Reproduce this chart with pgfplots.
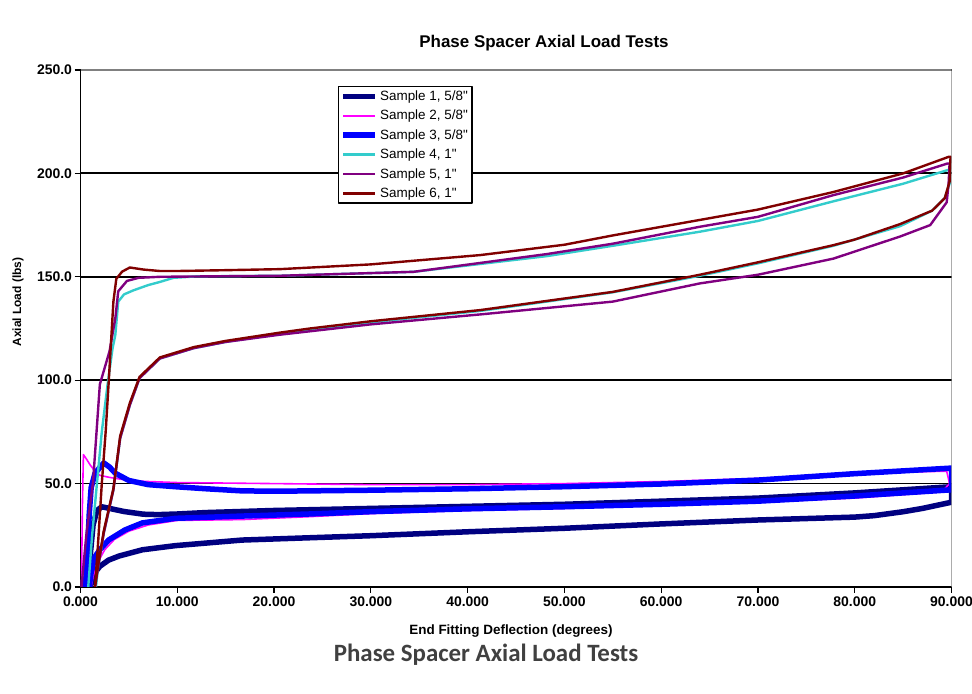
\documentclass[border=0pt]{standalone}
\usepackage{fontspec}
\setmainfont{Liberation Sans}[Ligatures=TeXOff]
\newfontfamily\calibri{Carlito}
\usepackage{pgfplots}
\pgfplotsset{compat=1.18}
\definecolor{sOne}{RGB}{0,0,128}
\definecolor{sTwo}{RGB}{255,0,255}
\definecolor{sThree}{RGB}{0,0,255}
\definecolor{sFour}{RGB}{51,204,204}
\definecolor{sFive}{RGB}{128,0,128}
\definecolor{sSix}{RGB}{128,0,0}
\definecolor{capgray}{RGB}{64,64,64}
\definecolor{bordergray}{RGB}{128,128,128}
\begin{document}
\begin{tikzpicture}
\path[use as bounding box] (0,0) rectangle (972bp,694bp);
\begin{axis}[
  at={(80.5bp,107bp)}, anchor=south west,
  scale only axis, width=871bp, height=517bp,
  xmin=0, xmax=90, ymin=0, ymax=250,
  axis lines=left, axis line style={-, black, line width=1.6bp},
  xtick={0,10,20,30,40,50,60,70,80,90},
  xticklabels={0.000,10.000,20.000,30.000,40.000,50.000,60.000,70.000,80.000,90.000},
  ytick={0,50,100,150,200,250},
  yticklabels={0.0,50.0,100.0,150.0,200.0,250.0},
  tick align=outside, major tick length=6bp,
  tick style={black, line width=1.2bp},
  ymajorgrids, grid style={black, line width=1.8bp},
  tick label style={font=\bfseries\fontsize{14}{16}\selectfont},
  yticklabel style={xshift=1bp},
  legend style={at={(0.2956,0.969)}, anchor=north west, draw=black, line width=1.3bp,
    fill=white, font=\fontsize{13.5}{15}\selectfont, inner sep=2bp, row sep=4.2bp},
  legend cell align=left,
  legend image code/.code={\draw[#1] (0bp,0bp) -- (32bp,0bp);},
  line join=round,
]
% Sample 1
\addplot[sOne, line width=5.5bp] coordinates {
(0.7,0) (1.0,15) (1.3,30) (1.7,37) (2.2,38.8) (3,38) (4.5,36.5) (6.5,35.2) (8,35) (10,35.3)
(13,36) (20,37) (30,38) (40,39) (50,40) (60,41.5) (70,43) (80,45.5) (90,48.5)
(90,41) (89.5,40.5) (87,38) (85,36.4) (82,34.5) (80,33.8) (70,32.4) (60,30.5) (50,28.4)
(40,26.7) (30,24.8) (23.6,23.8) (16.7,22.7) (9.8,20) (6.4,18) (4,15) (2.9,13) (2,10)
(1.5,7) (1.2,3) (1.0,0)};
\addlegendentry{Sample 1, 5/8"}
% Sample 2
\addplot[sTwo, line width=1.6bp] coordinates {
(0.1,0) (0.2,40) (0.3,64) (0.6,62) (1.0,59) (1.5,56) (2,54) (3,53) (5,51.5) (7,51) (10,50.5)
(20,50) (30,49.5) (40,49.5) (50,50) (60,51) (70,52.5) (80,55) (89.5,56) (89.8,50) (89,46)
(80,43) (70,41) (60,39.5) (50,38) (40,37) (30,35.5) (23.6,34) (16.7,32.6) (10,32.2) (7,30)
(5,27) (3.5,23) (2.5,18) (1.8,12) (1.3,5) (1.1,0)};
\addlegendentry{Sample 2, 5/8"}
% Sample 3
\addplot[sThree, line width=5.5bp] coordinates {
(0.5,0) (0.7,15) (0.9,35) (1.1,48) (1.5,55) (2.4,60) (3,58) (3.6,55) (5,51.5) (7,49.5)
(9.8,48.5) (13,47.5) (16.6,46.5) (20,46.3) (30,46.8) (40,47.5) (50,48.5) (60,49.8)
(70,51.7) (80,54.8) (90,57.5) (90,47) (80,44) (70,41.5) (60,40) (50,38.8) (40,37.8)
(30.5,36.5) (23.6,35.3) (16.7,34.3) (9.8,33.2) (6.4,31) (4.6,27.6) (2.9,22.7) (2,18)
(1.5,14.7) (1.1,7) (0.9,0)};
\addlegendentry{Sample 3, 5/8"}
% Sample 4
\addplot[sFour, line width=2.4bp] coordinates {
(0.8,0) (1.2,25) (1.7,50) (2.2,75) (2.8,98) (3.3,115) (3.6,122) (3.9,138) (4.5,141.5)
(5.5,143.5) (7,146) (8.2,147.5) (9.6,149.5) (12,150.2) (20.6,150.5) (34.4,152.4)
(48.2,160) (55,165) (64,171.8) (70,177) (77.8,186.5) (85,195) (89.6,201.6)
(89.8,201.6) (89.8,195) (89.3,188) (88,182) (84.7,174.5) (77.8,165) (70,156.5)
(64,150.5) (55,142.5) (41.3,133.5) (30,128) (20.6,122.5) (15,118.5) (11.7,115.5)
(8.2,110.5) (6.1,101) (5.1,88) (4.1,72) (3.4,47) (2.4,26) (1.8,9) (1.6,0)};
\addlegendentry{Sample 4, 1"}
% Sample 5
\addplot[sFive, line width=2.4bp] coordinates {
(0.1,0) (0.6,25) (1.3,51) (2.0,98) (3.0,114) (3.6,130) (3.9,143) (4.8,148) (6,149.5)
(8.2,150) (20.6,150.5) (34.4,152.4) (48.2,161) (55,166) (64,174.2) (70,179) (77.8,189.5)
(85,198) (89.6,204.8) (89.8,204.8) (89.7,195) (89.5,186) (87.8,175) (84.7,169.5)
(77.8,158.8) (70,151) (64,146.8) (55,138) (41.3,131.8) (30,127) (20.6,122) (15,118.5)
(11.7,115.5) (8.2,110.5) (6.1,101) (5.1,88) (4.1,72) (3.4,47) (2.4,26) (1.8,9) (1.5,0)};
\addlegendentry{Sample 5, 1"}
% Sample 6
\addplot[sSix, line width=2.4bp] coordinates {
(1.5,0) (1.8,20) (2.2,50) (2.6,75) (2.9,98) (3.2,122) (3.4,138) (3.7,149) (4.3,152.5)
(5.1,154.5) (6.5,153.5) (8.2,152.8) (10,152.8) (15,153.2) (20.6,153.7) (30,156)
(41.3,160.5) (50,165.5) (55,170) (64,177.5) (70,182.5) (77.8,191) (85,200) (89.7,208)
(89.9,208) (89.8,196) (89.3,188) (88,182) (84.7,175.5) (80,168) (77.8,165.3) (70,157)
(66,153) (64,151) (55,142.7) (50,139.5) (41.3,133.9) (30,128.5) (23.7,125) (20.6,123)
(15,119) (11.7,116) (8.2,111) (6.1,101.6) (5.1,89) (4.1,73) (3.4,47.6) (2.4,27)
(1.8,10) (1.5,0)};
\addlegendentry{Sample 6, 1"}
\draw[bordergray, line width=1.6bp] (rel axis cs:0,1) -- (rel axis cs:1,1) -- (rel axis cs:1,0);
\end{axis}
\node[font=\bfseries\fontsize{17}{20}\selectfont] at (544bp,651bp) {Phase Spacer Axial Load Tests};
\node[font=\bfseries\fontsize{13.5}{16}\selectfont] at (511bp,63bp) {End Fitting Deflection (degrees)};
\node[font=\bfseries\fontsize{12}{14}\selectfont, rotate=90] at (18bp,392bp) {Axial Load (lbs)};
\node[font=\calibri\bfseries\fontsize{25}{30}\selectfont, text=capgray] at (486bp,39bp) {Phase Spacer Axial Load Tests};
\end{tikzpicture}
\end{document}
